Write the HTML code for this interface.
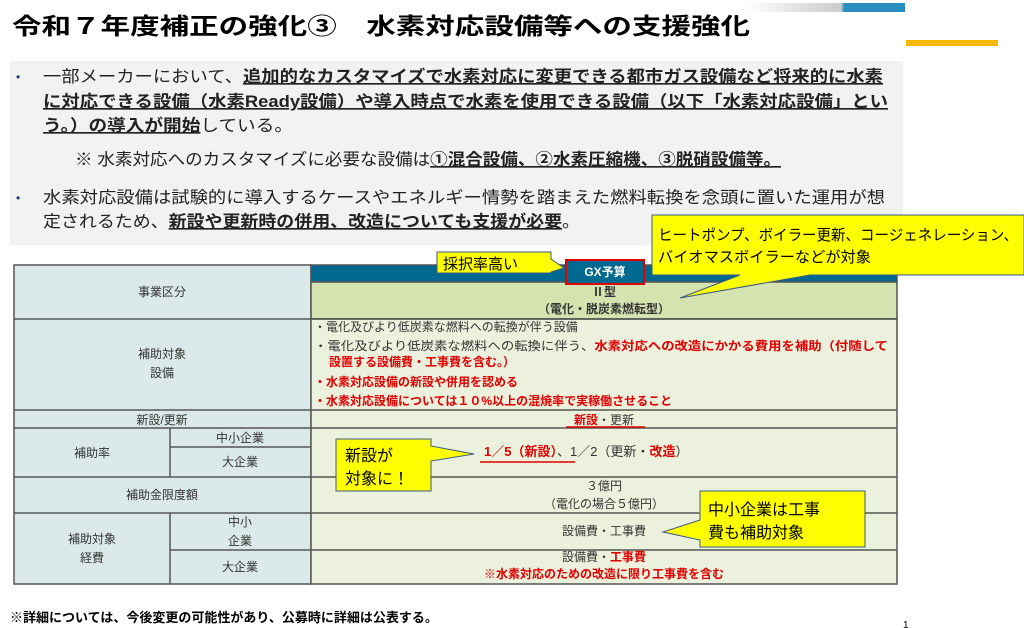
<!DOCTYPE html>
<html><head><meta charset="utf-8"><style>
html,body{margin:0;padding:0;background:#fff}
svg{display:block}
text{font-family:"Liberation Sans","Noto Sans CJK JP",sans-serif}
.b{font-weight:bold}
</style></head><body>
<svg width="1024" height="628" viewBox="0 0 1024 628" xmlns="http://www.w3.org/2000/svg">
<defs>
<linearGradient id="g1" x1="0" x2="1"><stop offset="0" stop-color="#fff"/><stop offset="0.6" stop-color="#ccc"/><stop offset="0.62" stop-color="#2a8fc0"/><stop offset="1" stop-color="#2a8fc0"/></linearGradient>
</defs>
<rect x="745" y="3" width="160" height="9" fill="url(#g1)"/>
<rect x="906" y="40" width="92" height="6" fill="#f5b800"/>
<text x="12" y="34" font-size="23" class="b" textLength="738" lengthAdjust="spacingAndGlyphs">令和７年度補正の強化③　水素対応設備等への支援強化</text>

<rect x="10" y="61" width="893" height="184" fill="#f2f2f2"/>
<g font-size="16.5" fill="#222">
<text x="16" y="81" fill="#1f3a7a" font-size="12">•</text>
<text x="43" y="82" textLength="840" lengthAdjust="spacingAndGlyphs">一部メーカーにおいて、<tspan class="b" text-decoration="underline">追加的なカスタマイズで水素対応に変更できる都市ガス設備など将来的に水素</tspan></text>
<text x="43" y="107" class="b" textLength="845" lengthAdjust="spacingAndGlyphs" text-decoration="underline">に対応できる設備（水素Ready設備）や導入時点で水素を使用できる設備（以下「水素対応設備」とい</text>
<text x="43" y="131" textLength="250" lengthAdjust="spacingAndGlyphs"><tspan class="b" text-decoration="underline">う。）の導入が開始</tspan>している。</text>
<text x="75" y="165" textLength="706" lengthAdjust="spacingAndGlyphs">※ 水素対応へのカスタマイズに必要な設備は<tspan class="b" text-decoration="underline">①混合設備、②水素圧縮機、③脱硝設備等。</tspan></text>
<text x="16" y="202" fill="#1f3a7a" font-size="12">•</text>
<text x="43" y="203" textLength="842" lengthAdjust="spacingAndGlyphs">水素対応設備は試験的に導入するケースやエネルギー情勢を踏まえた燃料転換を念頭に置いた運用が想</text>
<text x="43" y="227" textLength="537" lengthAdjust="spacingAndGlyphs">定されるため、<tspan class="b" text-decoration="underline">新設や更新時の併用、改造についても支援が必要</tspan>。</text>
</g>

<!-- table -->
<g stroke="#555" stroke-width="1.5">
<rect x="14" y="265" width="297" height="319" fill="#dbe9ea"/>
<rect x="311" y="265" width="586" height="17" fill="#00698f"/>
<rect x="311" y="282" width="586" height="37" fill="#d4e3b0"/>
<rect x="311" y="319" width="586" height="265" fill="#ebf1dd"/>
<line x1="14" y1="319" x2="897" y2="319"/>
<line x1="14" y1="410" x2="897" y2="410"/>
<line x1="14" y1="428" x2="897" y2="428"/>
<line x1="170" y1="447" x2="311" y2="447"/>
<line x1="14" y1="477" x2="897" y2="477"/>
<line x1="14" y1="513" x2="897" y2="513"/>
<line x1="170" y1="550" x2="897" y2="550"/>
<line x1="170" y1="428" x2="170" y2="477"/>
<line x1="170" y1="513" x2="170" y2="584"/>
</g>
<g font-size="12" fill="#333" text-anchor="middle">
<text x="162" y="296">事業区分</text>
<text x="162" y="358">補助対象</text>
<text x="162" y="377">設備</text>
<text x="162" y="424">新設/更新</text>
<text x="92" y="457">補助率</text>
<text x="240" y="442">中小企業</text>
<text x="240" y="466">大企業</text>
<text x="162" y="499">補助金限度額</text>
<text x="92" y="543">補助対象</text>
<text x="92" y="562">経費</text>
<text x="240" y="526">中小</text>
<text x="240" y="545">企業</text>
<text x="240" y="571">大企業</text>
<text x="604" y="296" class="b">Ⅱ型</text>
<text x="604" y="313" class="b">（電化・脱炭素燃転型）</text>
<text x="604" y="424" fill="#e00000" class="b">新設<tspan fill="#333" font-weight="normal">・更新</tspan></text>
<text x="604" y="490">３億円</text>
<text x="604" y="508">（電化の場合５億円）</text>
<text x="604" y="535">設備費・工事費</text>
<text x="604" y="561">設備費・<tspan fill="#e00000" class="b">工事費</tspan></text>
<text x="604" y="578" fill="#e00000" class="b">※水素対応のための改造に限り工事費を含む</text>
</g>
<line x1="566" y1="427" x2="645" y2="427" stroke="#e00000" stroke-width="1.5"/>
<g font-size="12" fill="#333">
<text x="314" y="331">・電化及びより低炭素な燃料への転換が伴う設備</text>
<text x="314" y="350" textLength="574" lengthAdjust="spacingAndGlyphs">・電化及びより低炭素な燃料への転換に伴う、<tspan fill="#e00000" class="b">水素対応への改造にかかる費用を補助（付随して</tspan></text>
<text x="329" y="366" fill="#e00000" class="b">設置する設備費・工事費を含む。）</text>
<text x="314" y="386" fill="#e00000" class="b">・水素対応設備の新設や併用を認める</text>
<text x="314" y="405" fill="#e00000" class="b">・水素対応設備については１０%以上の混焼率で実稼働させること</text>
<text x="484" y="456" font-size="13"><tspan fill="#e00000" class="b">1／5（新設）</tspan>、1／2（更新・<tspan fill="#e00000" class="b">改造</tspan>）</text>
</g>
<line x1="480" y1="462" x2="575" y2="462" stroke="#e00000" stroke-width="1.5"/>

<!-- callouts -->
<path d="M652,215 L1024,215 L1024,275 L810,275 L680,298 L740,275 L652,275 Z" fill="#ffff00" stroke="#3a5a8a" stroke-width="1"/>
<text x="658" y="240" font-size="15" textLength="360" lengthAdjust="spacingAndGlyphs">ヒートポンプ、ボイラー更新、コージェネレーション、</text>
<text x="658" y="262" font-size="15" textLength="213" lengthAdjust="spacingAndGlyphs">バイオマスボイラーなどが対象</text>

<path d="M437,252 L551,252 L551,259 L564,268 L551,272 L551,273 L437,273 Z" fill="#ffff00" stroke="#3a5a8a" stroke-width="1"/>
<text x="443" y="269" font-size="15">採択率高い</text>
<rect x="566" y="260" width="78" height="24" fill="#00698f" stroke="#e00000" stroke-width="2"/>
<text x="605" y="276" font-size="12" fill="#fff" class="b" text-anchor="middle">GX予算</text>

<path d="M336,439 L431,439 L431,446 L474,454 L431,461 L431,491 L336,491 Z" fill="#ffff00" stroke="#3a5a8a" stroke-width="1"/>
<text x="345" y="461" font-size="16">新設が</text>
<text x="345" y="484" font-size="16">対象に！</text>

<path d="M700,491 L865,491 L865,547 L700,547 L700,540 L663,532 L700,520 Z" fill="#ffff00" stroke="#3a5a8a" stroke-width="1"/>
<text x="708" y="515" font-size="16">中小企業は工事</text>
<text x="708" y="538" font-size="16">費も補助対象</text>

<text x="10" y="622" font-size="13" class="b">※詳細については、今後変更の可能性があり、公募時に詳細は公表する。</text>
<text x="903" y="628" font-size="10">1</text>
</svg>
</body></html>
